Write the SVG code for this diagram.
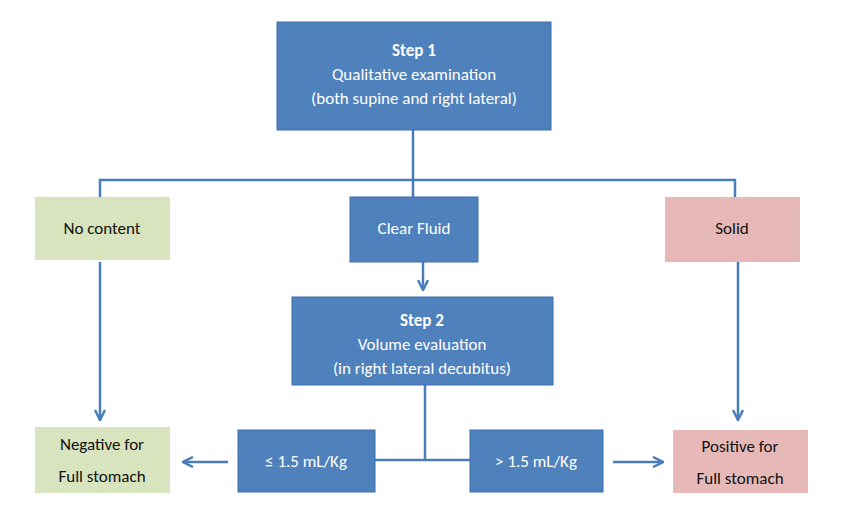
<svg xmlns="http://www.w3.org/2000/svg" width="844" height="514" viewBox="0 0 844 514">
<style>
.b{fill:#4f81bd;stroke:#3c6fae;stroke-width:1}
.g{fill:#d7e4bd}
.r{fill:#e6b9b8}
text{font-family:Calibri,"Liberation Sans",sans-serif;font-size:17px;text-anchor:middle}
.w{fill:#fff}
.k{fill:#111}
.c{stroke:#4a7ebb;stroke-width:2.5;fill:none}
</style>
<defs><marker id="a" viewBox="0 0 10 10" refX="9" refY="5" markerWidth="5" markerHeight="5" orient="auto"><path d="M1,1L9,5L1,9" fill="none" stroke="#4a7ebb" stroke-width="2"/></marker></defs>
<rect width="844" height="514" fill="#fff"/>
<g id="connectors" class="c">
<path d="M413,130V197M100,197V180H735V197"/>
<path d="M100,262V420" marker-end="url(#a)"/>
<path d="M423,262V290" marker-end="url(#a)"/>
<path d="M738,262V420" marker-end="url(#a)"/>
<path d="M425,385V460M375,460H470"/>
<path d="M228,462H183" marker-end="url(#a)"/>
<path d="M613,462H663" marker-end="url(#a)"/>
</g>
<g id="step1"><rect class="b" x="277" y="22" width="274" height="108"/><text class="w" x="414" y="56" font-weight="bold">Step 1</text><text class="w" x="414" y="80">Qualitative examination</text><text class="w" x="414" y="104">(both supine and right lateral)</text></g>
<g id="nocontent"><rect class="g" x="35" y="197" width="135" height="63"/><text class="k" x="102" y="234">No content</text></g>
<g id="clearfluid"><rect class="b" x="350" y="197" width="128" height="65"/><text class="w" x="414" y="234">Clear Fluid</text></g>
<g id="solid"><rect class="r" x="665" y="197" width="135" height="65"/><text class="k" x="732" y="234">Solid</text></g>
<g id="step2"><rect class="b" x="292" y="297" width="261" height="88"/><text class="w" x="422" y="326" font-weight="bold">Step 2</text><text class="w" x="422" y="350">Volume evaluation</text><text class="w" x="422" y="374">(in right lateral decubitus)</text></g>
<g id="negative"><rect class="g" x="35" y="427" width="135" height="66"/><text class="k" x="102" y="450">Negative for</text><text class="k" x="102" y="482">Full stomach</text></g>
<g id="le"><rect class="b" x="238" y="430" width="137" height="62"/><text class="w" x="306" y="467">≤ 1.5 mL/Kg</text></g>
<g id="gt"><rect class="b" x="470" y="430" width="133" height="62"/><text class="w" x="536" y="467">&gt; 1.5 mL/Kg</text></g>
<g id="positive"><rect class="r" x="673" y="430" width="135" height="63"/><text class="k" x="740" y="452">Positive for</text><text class="k" x="740" y="484">Full stomach</text></g>
</svg>
